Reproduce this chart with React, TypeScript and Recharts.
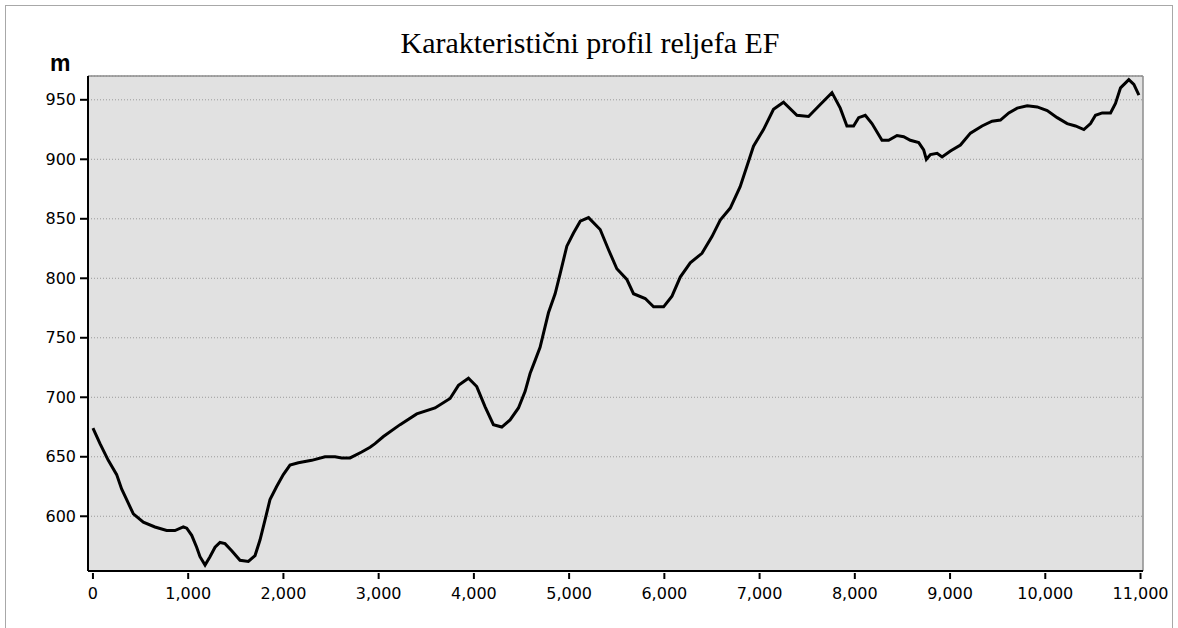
import { LineChart, Line, XAxis, YAxis, CartesianGrid, ReferenceLine } from "recharts";

// distance along the profile (m)
const DIST = [
  0, 74, 161, 249, 301, 354, 424, 529, 651, 774, 861, 949, 985, 1037, 1089, 1124, 1177, 1229, 1282, 1334,
  1387, 1457, 1544, 1632, 1702, 1754, 1807, 1859, 1929, 1999, 2069, 2157, 2297, 2437, 2542, 2612, 2700, 2822,
  2910, 2962, 3050, 3225, 3400, 3592, 3750, 3838, 3943, 4030, 4118, 4205, 4293, 4380, 4468, 4538, 4590, 4643,
  4695, 4783, 4853, 4906, 4976, 5046, 5117, 5204, 5326, 5414, 5501, 5606, 5676, 5799, 5887, 5992, 6080, 6167,
  6272, 6395, 6500, 6587, 6692, 6796, 6866, 6936, 7041, 7146, 7251, 7392, 7514, 7637, 7760, 7847, 7917, 7987,
  8040, 8110, 8180, 8285, 8355, 8443, 8513, 8583, 8671, 8723, 8751, 8794, 8864, 8916, 9004, 9109, 9214, 9336,
  9441, 9529, 9617, 9705, 9810, 9915, 10020, 10125, 10230, 10317, 10405, 10475, 10527, 10598, 10685, 10737,
  10790, 10877, 10930, 10983,
];

// elevation (m)
const ELEV = [
  674, 661, 647, 635, 623, 614, 602, 595, 591, 588, 588, 591, 590, 584, 574, 566, 559, 566, 574, 578,
  577, 571, 563, 562, 567, 580, 597, 614, 625, 635, 643, 645, 647, 650, 650, 649, 649, 654,
  658, 661, 667, 677, 686, 691, 699, 710, 716, 709, 692, 677, 675, 681, 691, 705, 720, 731,
  742, 771, 787, 804, 827, 838, 848, 851, 841, 824, 808, 799, 787, 783, 776, 776, 785, 801,
  813, 821, 835, 849, 859, 877, 894, 911, 925, 942, 948, 937, 936, 946, 956, 943, 928, 928,
  935, 937, 930, 916, 916, 920, 919, 916, 914, 908, 900, 904, 905, 902, 907, 912, 922, 928,
  932, 933, 939, 943, 945, 944, 941, 935, 930, 928, 925, 930, 937, 939, 939, 947,
  960, 967, 963, 954,
];

const X_TICKS = [0, 1000, 2000, 3000, 4000, 5000, 6000, 7000, 8000, 9000, 10000, 11000];
const Y_TICKS = [600, 650, 700, 750, 800, 850, 900, 950];

const TITLE = "Karakteristični profil reljefa EF";
const Y_UNIT = "m";

const data = DIST.map((d, i) => ({ dist: d, elev: ELEV[i] }));

const fmt = (v: number) => v.toLocaleString("en-US");

function XTick(props: any) {
  const { x, y, payload } = props;
  return (
    <g>
      <line x1={x} x2={x} y1={y - 12} y2={y - 6} stroke="#000" strokeWidth={2} />
      <text x={x} y={y + 14} textAnchor="middle" fontFamily="DejaVu Sans" fontSize={16} fill="#000">
        {fmt(payload.value)}
      </text>
    </g>
  );
}

export default function App() {
  return (
    <div style={{ position: "absolute", left: 0, top: 0, width: 1178, height: 628, background: "#fff", overflow: "hidden" }}>
      <div
        style={{
          position: "absolute",
          left: 5,
          top: 5,
          width: 1168,
          height: 640,
          boxSizing: "border-box",
          border: "1px solid #a8a8a8",
        }}
      />
      <div
        style={{
          position: "absolute",
          left: 0,
          top: 25,
          width: 1180,
          textAlign: "center",
          fontFamily: "Liberation Serif",
          fontSize: 30,
          lineHeight: "36px",
          color: "#000",
        }}
      >
        {TITLE}
      </div>
      <div
        style={{
          position: "absolute",
          left: 50,
          top: 52,
          fontFamily: "Liberation Sans",
          fontWeight: "bold",
          fontSize: 23,
          lineHeight: "23px",
          color: "#000",
        }}
      >
        {Y_UNIT}
      </div>
      <div style={{ position: "absolute", left: 0, top: 0 }}>
        <LineChart width={1178} height={628} data={data} margin={{ top: 76, right: 35, bottom: 7, left: 8 }}>
          <CartesianGrid vertical={false} fill="#e1e1e1" stroke="#9a9a9a" strokeDasharray="1 2" />
          <XAxis
            dataKey="dist"
            type="number"
            domain={[-52, 11026]}
            ticks={X_TICKS}
            allowDataOverflow
            height={50}
            tickSize={8}
            tickMargin={6}
            tickLine={false}
            axisLine={{ stroke: "#000", strokeWidth: 2 }}
            tick={<XTick />}
            interval={0}
          />
          <YAxis
            type="number"
            domain={[554, 970]}
            ticks={Y_TICKS}
            allowDataOverflow
            width={80}
            tickSize={8}
            tickMargin={4}
            axisLine={{ stroke: "#000", strokeWidth: 2 }}
            tickLine={{ stroke: "#000", strokeWidth: 2 }}
            tick={{ fontFamily: "DejaVu Sans", fontSize: 16, fill: "#000" }}
            interval={0}
          />
          <ReferenceLine y={970} stroke="#8c8c8c" strokeWidth={1.5} />
          <ReferenceLine x={11026} stroke="#8c8c8c" strokeWidth={1.5} />
          <Line
            type="linear"
            dataKey="elev"
            stroke="#000"
            strokeWidth={3}
            dot={false}
            isAnimationActive={false}
          />
        </LineChart>
      </div>
    </div>
  );
}
